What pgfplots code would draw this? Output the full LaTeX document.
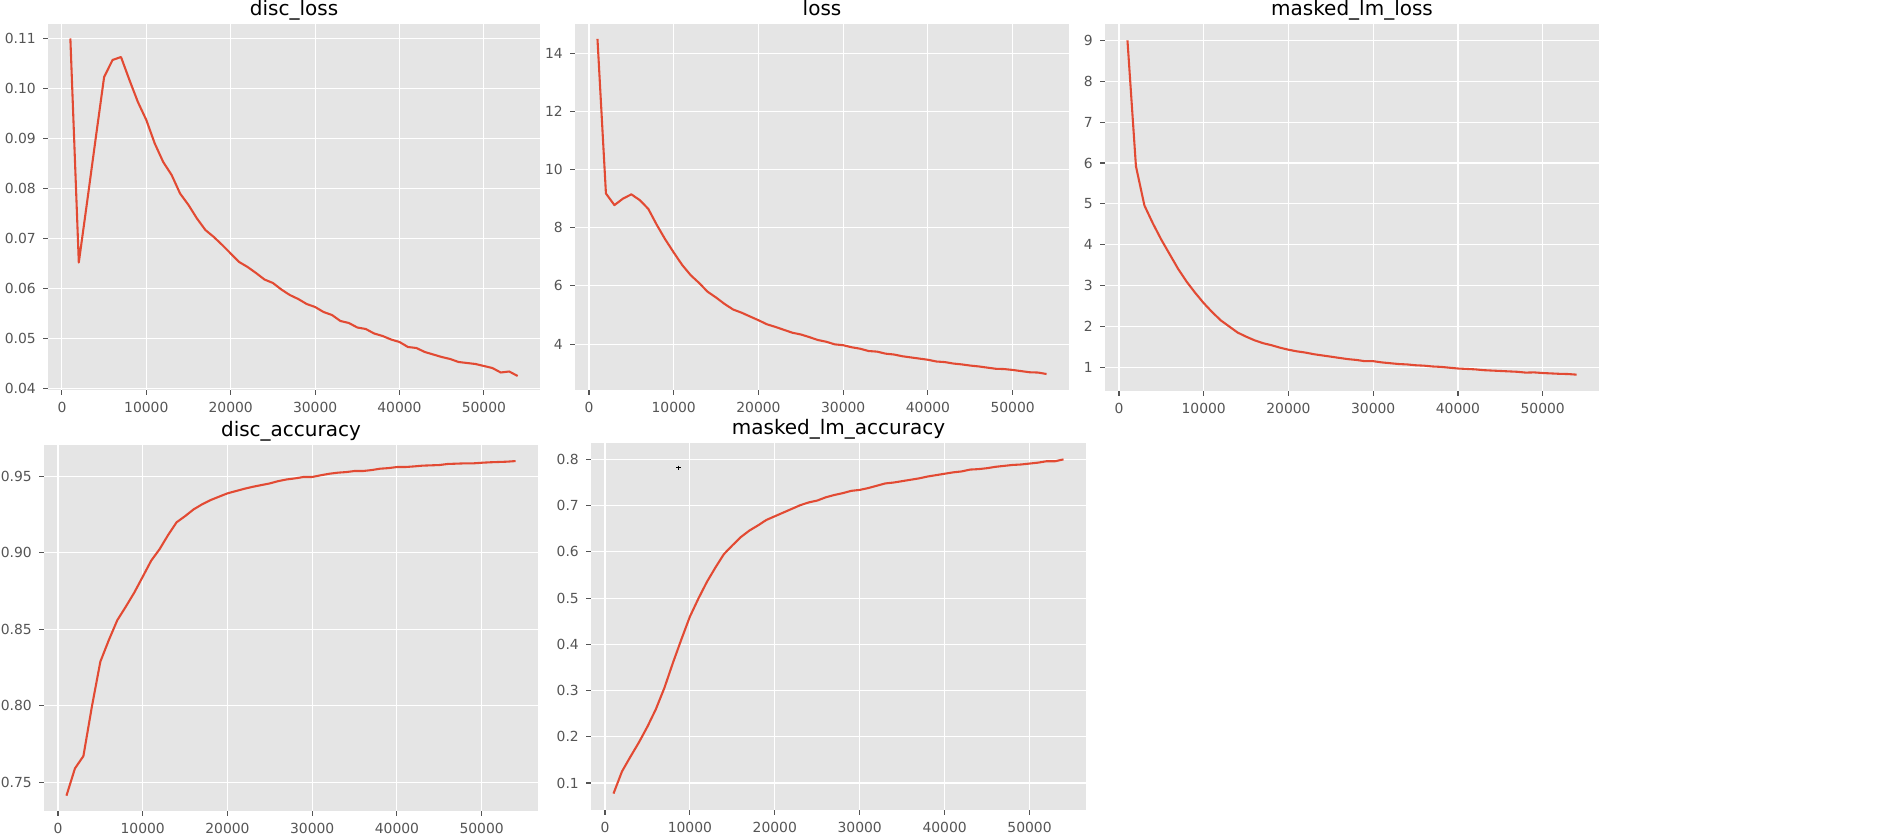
\documentclass[border=0pt]{standalone}
\usepackage{fontspec}
\setmainfont{DejaVu Sans}
\usepackage{pgfplots}
\pgfplotsset{compat=1.18}
\definecolor{ggbg}{HTML}{E5E5E5}
\definecolor{ggred}{HTML}{E24A33}
\definecolor{ggtick}{HTML}{555555}
\pgfplotsset{
  ggline/.style={ggred, line width=1.5pt, line join=round, mark=none},
  ggstyle/.style={
    scale only axis,
    anchor=south west,
    axis background/.style={fill=ggbg},
    axis line style={draw=none},
    grid=major,
    major grid style={white, line width=0.8pt},
    tick pos=left,
    tick align=outside,
    major tick length=3.5pt,
    major tick style={ggtick, line width=0.8pt},
    minor tick num=0,
    scaled x ticks=false, scaled y ticks=false,
    ticklabel style={font=\fontsize{10}{12}\selectfont, text=ggtick},
    xticklabel style={anchor=north, inner sep=0pt, yshift=-4.9pt},
    yticklabel style={anchor=east, inner sep=0pt, xshift=-5.1pt},
    every axis title/.style={font=\fontsize{14.4}{17}\selectfont, at={(0.5,1)}, anchor=base, yshift=6pt, inner sep=0pt},
    xmin=-1650, xmax=56650,
    xtick={0,10000,20000,30000,40000,50000},
    xticklabels={0,10000,20000,30000,40000,50000},
  }
}
\begin{document}
\begin{tikzpicture}
\path[use as bounding box] (0pt,0pt) rectangle (1355.76pt,599.76pt);
% disc_loss
\begin{axis}[ggstyle, at={(34.56pt,318.96pt)}, width=354.24pt, height=263.52pt,
  title={disc\_loss}, ymin=0.0397, ymax=0.1129,
  ytick={0.04,0.05,0.06,0.07,0.08,0.09,0.10,0.11},
  yticklabels={0.04,0.05,0.06,0.07,0.08,0.09,0.10,0.11}]
\addplot[ggline] coordinates {
(1000,0.1100)(2000,0.0652)(3000,0.0775)(4000,0.0900)(5000,0.1023)(6000,0.1057)
(7000,0.1063)(8000,0.1017)(9000,0.0973)(10000,0.0937)(11000,0.0890)(12000,0.0853)
(13000,0.0827)(14000,0.0790)(15000,0.0767)(16000,0.0740)(17000,0.0717)(18000,0.0703)
(19000,0.0687)(20000,0.0670)(21000,0.0653)(22000,0.0643)(23000,0.0631)(24000,0.0618)
(25000,0.0611)(26000,0.0598)(27000,0.0587)(28000,0.0579)(29000,0.0569)(30000,0.0563)
(31000,0.0553)(32000,0.0547)(33000,0.0535)(34000,0.0531)(35000,0.0522)(36000,0.0519)
(37000,0.0510)(38000,0.0505)(39000,0.0498)(40000,0.0493)(41000,0.0483)(42000,0.0481)
(43000,0.0473)(44000,0.0468)(45000,0.0463)(46000,0.0459)(47000,0.0453)(48000,0.0451)
(49000,0.0449)(50000,0.0445)(51000,0.0441)(52000,0.0432)(53000,0.0434)(54000,0.0425)
};
\end{axis}
% loss
\begin{axis}[ggstyle, at={(414pt,318.96pt)}, width=355.68pt, height=263.52pt,
  title={loss}, ymin=2.42, ymax=15.01,
  ytick={4,6,8,10,12,14}, yticklabels={4,6,8,10,12,14}]
\addplot[ggline] coordinates {
(1000,14.50)(2000,9.18)(3000,8.78)(4000,9.00)(5000,9.15)(6000,8.95)
(7000,8.65)(8000,8.10)(9000,7.60)(10000,7.15)(11000,6.72)(12000,6.37)
(13000,6.10)(14000,5.80)(15000,5.60)(16000,5.38)(17000,5.19)(18000,5.08)
(19000,4.95)(20000,4.82)(21000,4.68)(22000,4.59)(23000,4.49)(24000,4.39)
(25000,4.33)(26000,4.24)(27000,4.14)(28000,4.08)(29000,3.99)(30000,3.96)
(31000,3.89)(32000,3.84)(33000,3.76)(34000,3.74)(35000,3.67)(36000,3.64)
(37000,3.58)(38000,3.54)(39000,3.50)(40000,3.46)(41000,3.40)(42000,3.38)
(43000,3.33)(44000,3.30)(45000,3.26)(46000,3.23)(47000,3.19)(48000,3.15)
(49000,3.14)(50000,3.11)(51000,3.07)(52000,3.03)(53000,3.02)(54000,2.97)
};
\end{axis}
% masked_lm_loss
\begin{axis}[ggstyle, at={(795.6pt,318.24pt)}, width=355.68pt, height=264.24pt,
  title={masked\_lm\_loss}, ymin=0.42, ymax=9.40,
  ytick={1,2,3,4,5,6,7,8,9}, yticklabels={1,2,3,4,5,6,7,8,9}]
\addplot[ggline] coordinates {
(1000,9.00)(2000,5.92)(3000,4.96)(4000,4.52)(5000,4.12)(6000,3.76)
(7000,3.40)(8000,3.09)(9000,2.82)(10000,2.57)(11000,2.35)(12000,2.15)
(13000,2.00)(14000,1.85)(15000,1.75)(16000,1.66)(17000,1.59)(18000,1.54)
(19000,1.48)(20000,1.43)(21000,1.39)(22000,1.36)(23000,1.32)(24000,1.29)
(25000,1.26)(26000,1.23)(27000,1.20)(28000,1.18)(29000,1.15)(30000,1.15)
(31000,1.12)(32000,1.10)(33000,1.08)(34000,1.07)(35000,1.05)(36000,1.04)
(37000,1.02)(38000,1.01)(39000,0.99)(40000,0.97)(41000,0.96)(42000,0.95)
(43000,0.93)(44000,0.92)(45000,0.91)(46000,0.90)(47000,0.89)(48000,0.87)
(49000,0.875)(50000,0.86)(51000,0.85)(52000,0.84)(53000,0.835)(54000,0.82)
};
\end{axis}
% disc_accuracy
\begin{axis}[ggstyle, at={(31.68pt,15.84pt)}, width=355.68pt, height=263.52pt,
  title={disc\_accuracy}, ymin=0.7313, ymax=0.9705,
  ytick={0.75,0.80,0.85,0.90,0.95}, yticklabels={0.75,0.80,0.85,0.90,0.95}]
\addplot[ggline] coordinates {
(1000,0.7413)(2000,0.7591)(3000,0.7672)(4000,0.7995)(5000,0.8289)(6000,0.8430)
(7000,0.8560)(8000,0.8648)(9000,0.8740)(10000,0.8844)(11000,0.8949)(12000,0.9025)
(13000,0.9117)(14000,0.9200)(15000,0.9240)(16000,0.9284)(17000,0.9317)(18000,0.9345)
(19000,0.9367)(20000,0.9389)(21000,0.9404)(22000,0.9419)(23000,0.9432)(24000,0.9443)
(25000,0.9454)(26000,0.9469)(27000,0.9480)(28000,0.9487)(29000,0.9496)(30000,0.9496)
(31000,0.9507)(32000,0.9517)(33000,0.9524)(34000,0.9528)(35000,0.9535)(36000,0.9535)
(37000,0.9541)(38000,0.9550)(39000,0.9554)(40000,0.9561)(41000,0.9561)(42000,0.9565)
(43000,0.9570)(44000,0.9572)(45000,0.9574)(46000,0.9581)(47000,0.9583)(48000,0.9585)
(49000,0.9585)(50000,0.9589)(51000,0.9592)(52000,0.9594)(53000,0.9596)(54000,0.9600)
};
\end{axis}
% masked_lm_accuracy
\begin{axis}[ggstyle, at={(425.52pt,16.56pt)}, width=356.4pt, height=264.24pt,
  title={masked\_lm\_accuracy}, ymin=0.0415, ymax=0.8355,
  ytick={0.1,0.2,0.3,0.4,0.5,0.6,0.7,0.8}, yticklabels={0.1,0.2,0.3,0.4,0.5,0.6,0.7,0.8}]
\addplot[ggline] coordinates {
(1000,0.077)(2000,0.125)(3000,0.157)(4000,0.188)(5000,0.222)(6000,0.260)
(7000,0.306)(8000,0.360)(9000,0.411)(10000,0.460)(11000,0.499)(12000,0.535)
(13000,0.566)(14000,0.595)(15000,0.614)(16000,0.632)(17000,0.646)(18000,0.657)
(19000,0.669)(20000,0.677)(21000,0.685)(22000,0.693)(23000,0.701)(24000,0.707)
(25000,0.711)(26000,0.718)(27000,0.723)(28000,0.727)(29000,0.732)(30000,0.734)
(31000,0.738)(32000,0.743)(33000,0.748)(34000,0.750)(35000,0.753)(36000,0.756)
(37000,0.759)(38000,0.763)(39000,0.766)(40000,0.769)(41000,0.772)(42000,0.774)
(43000,0.778)(44000,0.779)(45000,0.781)(46000,0.784)(47000,0.786)(48000,0.788)
(49000,0.789)(50000,0.791)(51000,0.793)(52000,0.796)(53000,0.796)(54000,0.800)
};
\addplot[black, line width=0.5pt, only marks, mark=+, mark size=1.5pt] coordinates {(8660,0.782)};
\end{axis}
\end{tikzpicture}
\end{document}
